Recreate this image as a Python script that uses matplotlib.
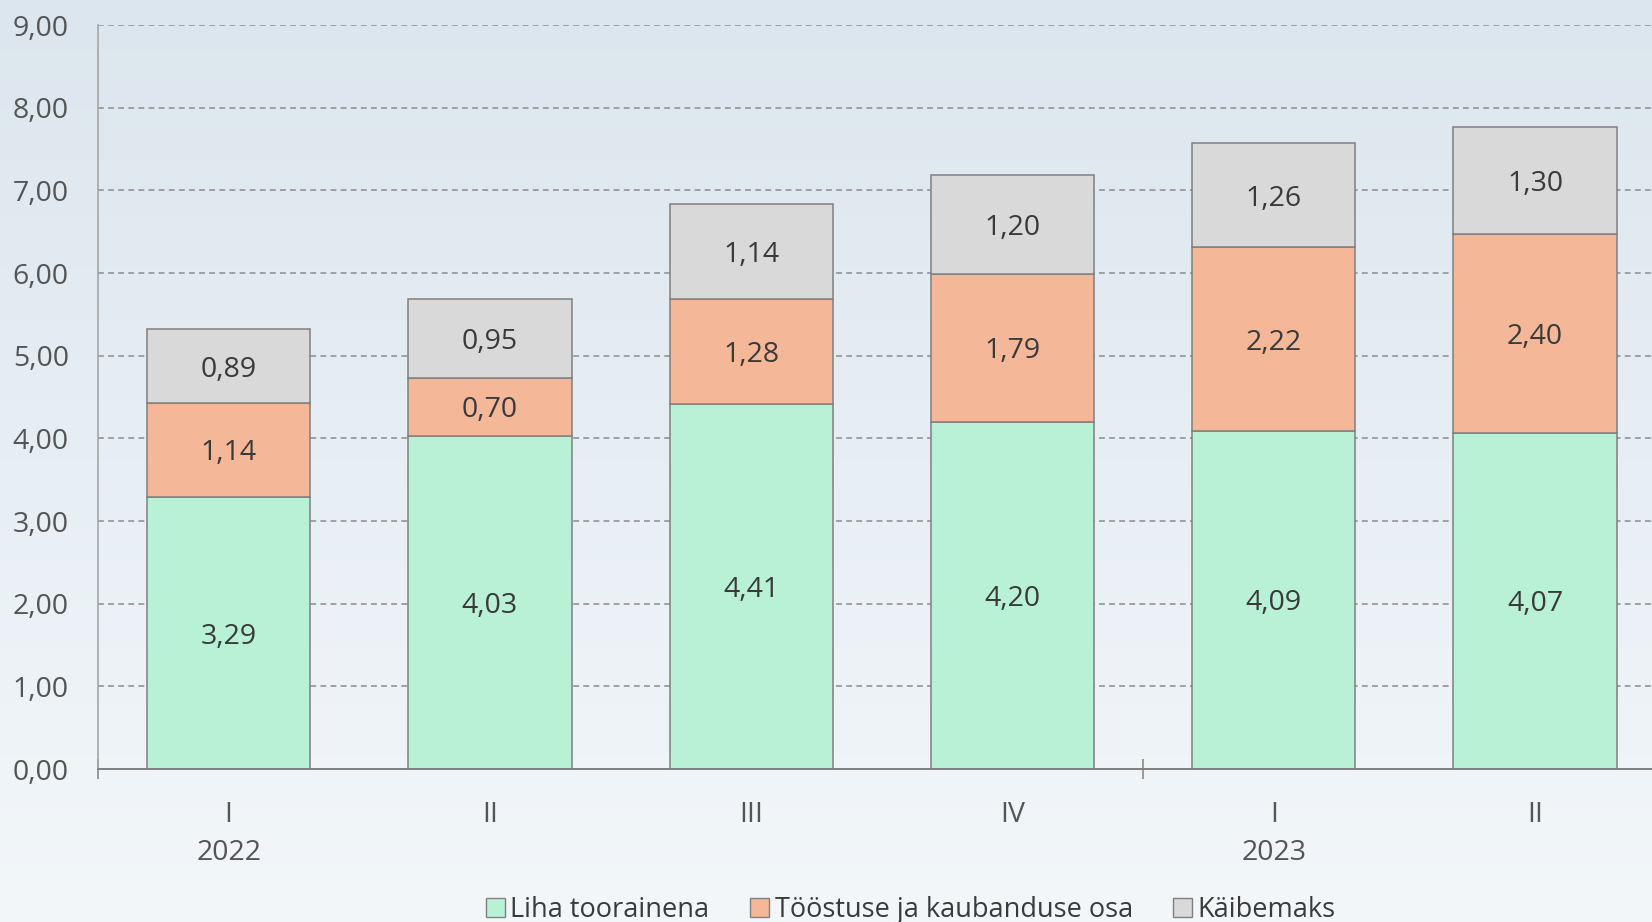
import numpy as np
import matplotlib
matplotlib.use("Agg")
import matplotlib.pyplot as plt
from matplotlib.patches import Patch
from matplotlib.colors import LinearSegmentedColormap

plt.rcParams['font.family'] = ['Open Sans', 'DejaVu Sans']

# Quarterly components of the retail price (€/kg)
quarters = ["I", "II", "III", "IV", "I", "II"]
years = ["2022", "2023"]
year_positions = [0, 4]
liha = [3.29, 4.03, 4.41, 4.20, 4.09, 4.07]
toostus = [1.14, 0.70, 1.28, 1.79, 2.22, 2.40]
kaibemaks = [0.89, 0.95, 1.14, 1.20, 1.26, 1.30]
series_names = ["Liha toorainena", "Tööstuse ja kaubanduse osa", "Käibemaks"]
yticks = [0, 1, 2, 3, 4, 5, 6, 7, 8, 9]

colors = ["#B8F1D6", "#F4B797", "#D9D9D9"]
edge = "#7F7F7F"
label_color = "#3A3A3A"
tick_color = "#555555"
FS = 20.5

W, H = 1652, 922
fig = plt.figure(figsize=(W / 100, H / 100), dpi=100)

# vertical background gradient
bg = fig.add_axes([0, 0, 1, 1], zorder=-10)
cmap = LinearSegmentedColormap.from_list("bg", ["#F3F7FA", "#DCE6EE"])
grad = np.linspace(0, 1, 256).reshape(-1, 1)
bg.imshow(grad, cmap=cmap, aspect="auto", origin="lower", extent=[0, 1, 0, 1])
bg.set_axis_off()

left_px, right_px = 98, 1665.7
bottom_px, top_px = 769, 25
ax = fig.add_axes([left_px / W, 1 - bottom_px / H,
                   (right_px - left_px) / W, (bottom_px - top_px) / H])
ax.set_facecolor("none")

x = np.arange(len(quarters))
width = 0.625
stacks = [liha, toostus, kaibemaks]
base = np.zeros(len(quarters))
for vals, col, name in zip(stacks, colors, series_names):
    vals = np.array(vals)
    ax.bar(x, vals, width, bottom=base, color=col, edgecolor=edge,
           linewidth=1.1, zorder=3, label=name)
    for xi, b, v in zip(x, base, vals):
        ax.text(xi, b + v / 2, f"{v:.2f}".replace(".", ","), ha="center",
                va="center_baseline", fontsize=FS, color=label_color, zorder=4)
    base = base + vals

ax.set_xlim(-0.5, 5.5)
ax.set_ylim(0, 9)
ax.set_yticks(yticks)
ax.set_yticklabels([f"{v:.2f}".replace(".", ",") for v in yticks],
                   fontsize=FS, color=tick_color)
ax.tick_params(axis="y", length=0, pad=21)

ax.yaxis.grid(True, color="#A0A0A0", linewidth=1.4, linestyle=(0, (3.0, 2.2)),
              zorder=0)
ax.set_axisbelow(True)

ax.set_xticks(x)
ax.set_xticklabels([])
ax.tick_params(axis="x", which="major", length=0)
ax.set_xticks([-0.5, 3.5], minor=True)
ax.tick_params(axis="x", which="minor", direction="inout", length=14,
               width=1.1, color="#808080")

for xi, q in zip(x, quarters):
    ax.annotate(q, xy=(xi, 0), xycoords=("data", "axes fraction"),
                xytext=(0, -30.5), textcoords="offset points", ha="center",
                va="center_baseline", fontsize=FS, color=tick_color)
for xp, yr in zip(year_positions, years):
    ax.annotate(yr, xy=(xp, 0), xycoords=("data", "axes fraction"),
                xytext=(0, -58), textcoords="offset points", ha="center",
                va="center_baseline", fontsize=FS, color=tick_color)

for s in ["top", "right"]:
    ax.spines[s].set_visible(False)
ax.spines["left"].set_color("#A6A6A6")
ax.spines["left"].set_linewidth(1.2)
ax.spines["bottom"].set_color("#808080")
ax.spines["bottom"].set_linewidth(1.4)
ax.spines["bottom"].set_zorder(5)

handles = [Patch(facecolor=c, edgecolor="#808080", linewidth=1.0)
           for c in colors]
fig.legend(handles, series_names, loc="center", bbox_to_anchor=(911 / W, 1 - 910 / H),
           ncol=3, frameon=False, fontsize=19.5, handlelength=0.7,
           handleheight=0.7, handletextpad=0.2, columnspacing=1.5,
           labelcolor=label_color)

fig.savefig("out.png", dpi=100)
